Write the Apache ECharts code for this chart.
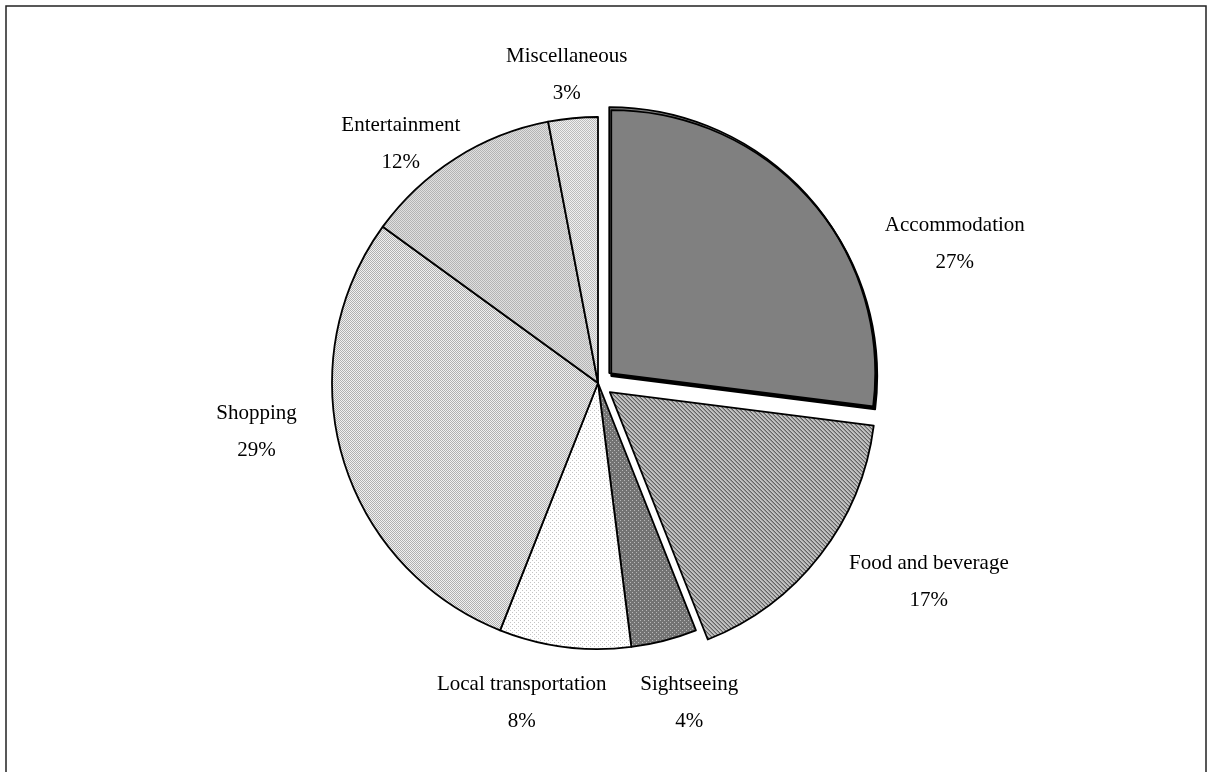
<!DOCTYPE html>
<html>
<head>
<meta charset="utf-8">
<title>Spending breakdown</title>
<script src="https://cdn.jsdelivr.net/npm/echarts@6/dist/echarts.min.js"></script>
<style>
  html, body { margin: 0; padding: 0; background: #fff; }
  #chart { width: 1213px; height: 772px; }
</style>
</head>
<body>
<div id="chart"></div>
<script>
// data
const categories = ["Accommodation", "Food and beverage", "Sightseeing", "Local transportation", "Shopping", "Entertainment", "Miscellaneous"];
const shares = [27, 17, 4, 8, 29, 12, 3];
const explodedSlices = ["Accommodation", "Food and beverage"];

// layout: pie geometry and where each label sits (angle nudge in degrees, distance from centre)
const pieCenter = [598, 383];
const pieRadius = 266;
const labelShift = [20.1, -6.8, -1.5, 6.2, 8.0, -7.1, -0.4];
const labelDist = [383, 386, 333, 329, 345, 310, 310];

// small fill textures, imitating the office-style pattern fills
function makePattern(size, bg, paint) {
  const c = document.createElement("canvas");
  c.width = size;
  c.height = size;
  const ctx = c.getContext("2d");
  ctx.fillStyle = bg;
  ctx.fillRect(0, 0, size, size);
  paint(ctx);
  return { image: c, repeat: "repeat" };
}
function dots(bg, fg, step) {
  return makePattern(step * 2, bg, function (ctx) {
    ctx.fillStyle = fg;
    ctx.fillRect(0, 0, 1, 1);
    ctx.fillRect(step, step, 1, 1);
  });
}
const fills = [
  "#808080",
  makePattern(4, "#c4c4c4", function (ctx) {
    ctx.fillStyle = "#303030";
    for (let i = 0; i < 4; i++) ctx.fillRect(i, i, 1, 1);
  }),
  dots("#737373", "#b8b8b8", 2),
  dots("#ffffff", "#c4c4c4", 2),
  dots("#f0f0f0", "#b0b0b0", 1),
  dots("#e0e0e0", "#b4b4b4", 1),
  dots("#f0f0f0", "#bcbcbc", 1)
];

let myChart = echarts.init(document.getElementById("chart"));

const sliceData = categories.map(function (name, i) {
  const style = {
    color: fills[i],
    borderColor: "#000",
    borderWidth: 1.8
  };
  if (i === 0) {
    // the big slice has a hard drop shadow at bottom-right
    style.shadowColor = "#000";
    style.shadowBlur = 0;
    style.shadowOffsetX = 2;
    style.shadowOffsetY = 3;
  }
  return {
    name: name,
    value: shares[i],
    selected: explodedSlices.indexOf(name) >= 0,
    itemStyle: style,
    select: { itemStyle: style }
  };
});

const labelData = categories.map(function (name, i) {
  return { name: name, value: shares[i] };
});

const total = shares.reduce(function (a, b) { return a + b; }, 0);

myChart.setOption({
  animation: false,
  graphic: [
    {
      type: "rect",
      shape: { x: 6, y: 6, width: 1200, height: 772 },
      style: { fill: "none", stroke: "#222", lineWidth: 1.5 },
      silent: true
    }
  ],
  series: [
    {
      // the slices, two of them pulled out
      type: "pie",
      center: pieCenter,
      radius: pieRadius,
      startAngle: 90,
      clockwise: true,
      selectedMode: "multiple",
      selectedOffset: 15,
      emphasis: { disabled: true },
      label: { show: false },
      labelLine: { show: false },
      data: sliceData
    },
    {
      // same pie again, transparent, only to carry the labels
      type: "pie",
      center: pieCenter,
      radius: pieRadius,
      startAngle: 90,
      clockwise: true,
      silent: true,
      z: 3,
      emphasis: { disabled: true },
      avoidLabelOverlap: false,
      itemStyle: { color: "rgba(0,0,0,0)", borderWidth: 0 },
      label: {
        show: true,
        position: "outside",
        color: "#000",
        fontFamily: "Liberation Serif",
        fontSize: 21,
        lineHeight: 37,
        formatter: function (p) {
          return p.name + "\n" + p.value + "%";
        }
      },
      labelLine: { show: false },
      labelLayout: function (params) {
        const idx = params.dataIndex;
        let before = 0;
        for (let i = 0; i < idx; i++) before += shares[i];
        const mid = ((before + shares[idx] / 2) / total) * 360 + labelShift[idx];
        const rad = (mid * Math.PI) / 180;
        return {
          x: pieCenter[0] + labelDist[idx] * Math.sin(rad),
          y: pieCenter[1] - labelDist[idx] * Math.cos(rad),
          align: "center",
          verticalAlign: "middle"
        };
      },
      data: labelData
    }
  ]
});
</script>
</body>
</html>
